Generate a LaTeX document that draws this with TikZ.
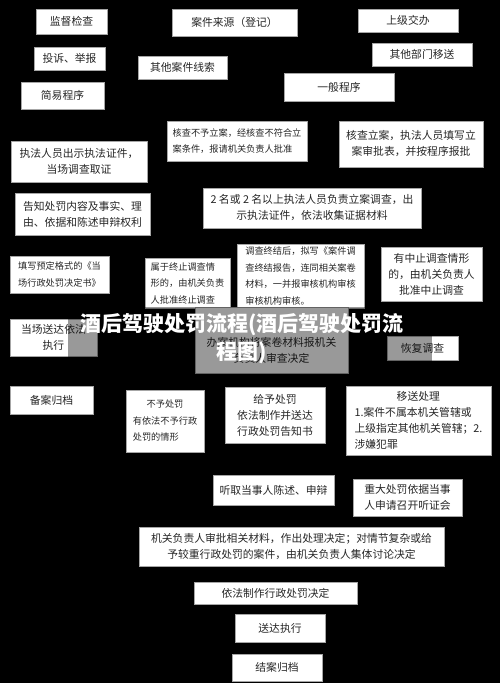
\documentclass[tikz,border=0pt]{standalone}
\usepackage{fontspec}
\newfontfamily\cjk{Noto Sans CJK SC}

\begin{document}
\begin{tikzpicture}[x=1pt, y=-1pt,
    box/.style={draw=gray!70, fill=white, line width=0.5pt, inner sep=2pt, align=center,
      text=black!85, font=\cjk\fontsize{10.8}{16}\selectfont},
    small/.style={font=\cjk\fontsize{9.2}{16.5}\selectfont},
    heading/.style={text=white, align=center, font=\cjk\bfseries\fontsize{21}{28}\selectfont}]
  \useasboundingbox (0,0) rectangle (500,683);
  \fill[black] (0,0) rectangle (500,683);
  % sources
  \node[box, minimum width=71, minimum height=25] (jiandu) at (71.5,21.5) {监督检查};
  \node[box, minimum width=125, minimum height=27] (laiyuan) at (234.5,22.5) {案件来源（登记）};
  \node[box, minimum width=100, minimum height=23] (shangji) at (408,20.5) {上级交办};
  \node[box, minimum width=71, minimum height=23] (tousu) at (69.5,58.5) {投诉、举报};
  \node[box, minimum width=89, minimum height=23] (xiansuo) at (182.5,67.5) {其他案件线索};
  \node[box, minimum width=100, minimum height=23] (yisong) at (422,54.5) {其他部门移送};
  % procedures
  \node[box, minimum width=83, minimum height=27] (jianyi) at (62.5,95.5) {简易程序};
  \node[box, minimum width=110, minimum height=28] (yiban) at (339,87) {一般程序};
  \node[box, small, align=left, minimum width=140, minimum height=40] (buli) at (237,141)
    {核查不予立案，经核查不符合立\\案条件，报请机关负责人批准};
  \node[box, minimum width=144, minimum height=46] (lian) at (411,144)
    {核查立案，执法人员填写立\\案审批表，并按程序报批};
  % simple procedure
  \node[box, minimum width=136, minimum height=41] (chushi) at (79,161.5)
    {执法人员出示执法证件，\\当场调查取证};
  \node[box, align=left, minimum width=135, minimum height=42] (gaozhi) at (82.5,214)
    {告知处罚内容及事实、理\\由、依据和陈述申辩权利};
  \node[box, small, align=left, minimum width=99, minimum height=37] (tianxie) at (59.5,274.5)
    {填写预定格式的《当\\场行政处罚决定书》};
  \node[box, minimum width=87, minimum height=37] (songda1) at (53.5,337.5) {当场送达依法\\执行};
  \node[box, minimum width=83, minimum height=28] (beian) at (51.5,400) {备案归档};
  % general procedure
  \node[box, minimum width=218, minimum height=40] (diaocha) at (312,208)
    {2 名或 2 名以上执法人员负责立案调查，出\\示执法证件，依法收集证据材料};
  \node[box, small, align=left, minimum width=85, minimum height=50] (zhongzhi) at (187.5,283)
    {属于终止调查情\\形的，由机关负责\\人批准终止调查};
  \node[box, small, align=left, minimum width=127, minimum height=64] (zhongjie) at (300.5,276)
    {调查终结后，拟写《案件调\\查终结报告，连同相关案卷\\材料，一并报审核机构审核\\审核机构审核。};
  \node[box, minimum width=101, minimum height=54] (zanting) at (431.5,274)
    {有中止调查情形\\的，由机关负责人\\批准中止调查};
  \node[box, minimum width=153, minimum height=66] (banan) at (271.5,340)
    {\mbox{}\\[14pt]办案机构将案卷材料报机关\\负责人审查决定};
  \node[box, minimum width=71, minimum height=24] (huifu) at (422.5,348) {恢复调查};
  % decisions
  \node[box, small, align=left, minimum width=78, minimum height=62] (buyu) at (165,421)
    {\hspace*{1.5em}不予处罚\\有依法不予行政\\处罚的情形};
  \node[box, minimum width=100, minimum height=56] (geiyu) at (275,415)
    {给予处罚\\依法制作并送达\\行政处罚告知书};
  \node[box, align=left, minimum width=145, minimum height=69] (yisongcl) at (418.5,420.5)
    {\hspace*{3.9em}移送处理\\1.案件不属本机关管辖或\\上级指定其他机关管辖；2.\\涉嫌犯罪};
  \node[box, minimum width=121, minimum height=30] (tingqu) at (273.5,490) {听取当事人陈述、申辩};
  \node[box, minimum width=109, minimum height=37] (tingzheng) at (407.5,497.5)
    {重大处罚依据当事\\人申请召开听证会};
  \node[box, minimum width=305, minimum height=39] (shenpi) at (291.5,546.5)
    {机关负责人审批相关材料，作出处理决定；对情节复杂或给\\予较重行政处罚的案件，由机关负责人集体讨论决定};
  \node[box, minimum width=163, minimum height=22] (zhizuo) at (275.5,593) {依法制作行政处罚决定};
  \node[box, minimum width=90, minimum height=28] (songda) at (280,628) {送达执行};
  \node[box, minimum width=90, minimum height=27] (jiean) at (277,667.5) {结案归档};
  % title over a dark band
  \fill[black, opacity=0.4] (68,307) rectangle (432,375);
  \node[heading] (titel) at (242,339) {酒后驾驶处罚流程(酒后驾驶处罚流\\程图)};
\end{tikzpicture}
\end{document}
